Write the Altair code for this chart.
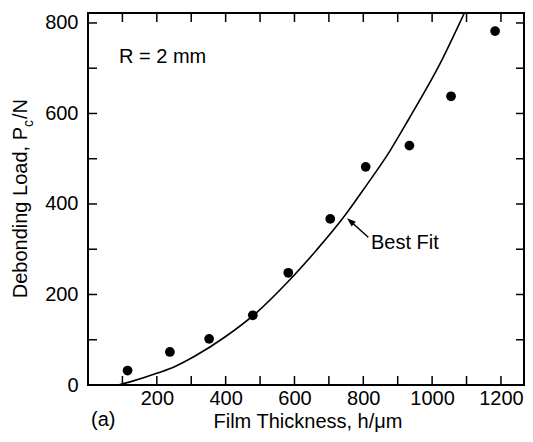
import altair as alt
import pandas as pd

# Measured data points (film thickness h in um, debonding load Pc in N)
h_data = [115, 238, 352, 479, 582, 704, 807, 934, 1055, 1183]
p_data = [32, 73, 102, 154, 248, 367, 482, 529, 638, 782]

# Best-fit curve
fit_h = [88, 127, 204, 250, 311, 398, 490, 581, 665, 742, 808, 878, 934, 1023, 1096]
fit_p = [0, 8, 27, 40, 64, 106, 160, 228, 299, 370, 440, 518, 590, 710, 826]

x_ticks = [100, 200, 300, 400, 500, 600, 700, 800, 900, 1000, 1100, 1200]
y_ticks = [100, 200, 300, 400, 500, 600, 700, 800]
x_labels = [200, 400, 600, 800, 1000, 1200]
y_labels = [0, 200, 400, 600, 800]

W, H = 436, 372
FONT = "Liberation Sans"

xs = alt.Scale(domain=[0, 1267], nice=False, zero=False)
ys = alt.Scale(domain=[0, 822], nice=False, zero=False)

pts_df = pd.DataFrame({"h": h_data, "p": p_data})
fit_df = pd.DataFrame({"h": fit_h, "p": fit_p})
xt_df = pd.DataFrame({"h": x_ticks})
yt_df = pd.DataFrame({"p": y_ticks})
one = pd.DataFrame({"a": [0]})

axis_common = dict(ticks=False, tickSize=0, domain=False, grid=False, format="d",
                   labelFontSize=20, labelFont=FONT, labelColor="black",
                   labelFlush=False, labelOverlap=False, title=None)
ax_x = alt.Axis(values=x_labels, labelPadding=3, **axis_common)
ax_y = alt.Axis(values=y_labels, labelPadding=10, **axis_common)

X = alt.X("h:Q", scale=xs, axis=ax_x)
Y = alt.Y("p:Q", scale=ys, axis=ax_y)

points = alt.Chart(pts_df).mark_circle(size=95, color="black", opacity=1).encode(x=X, y=Y)

fit = alt.Chart(fit_df).mark_line(color="black", strokeWidth=1.6,
                                  interpolate="monotone", clip=True).encode(x=X, y=Y)

tick_style = dict(color="black", strokeWidth=1.5)
bottom_ticks = alt.Chart(xt_df).mark_rule(**tick_style).encode(
    x=X, y=alt.value(H), y2=alt.value(H - 9))
top_ticks = alt.Chart(xt_df).mark_rule(**tick_style).encode(
    x=X, y=alt.value(0), y2=alt.value(9))
left_ticks = alt.Chart(yt_df).mark_rule(**tick_style).encode(
    y=Y, x=alt.value(0), x2=alt.value(9))
right_ticks = alt.Chart(yt_df).mark_rule(**tick_style).encode(
    y=Y, x=alt.value(W), x2=alt.value(W - 8))

def label(text, x, y, size=20, align="left", angle=0, weight="normal"):
    return alt.Chart(one).mark_text(text=text, font=FONT, fontSize=size, color="black",
                                    align=align, baseline="alphabetic", angle=angle,
                                    fontWeight=weight).encode(x=alt.value(x), y=alt.value(y))

r_label = label("R = 2 mm", 31, 50)
best_fit = label("Best Fit", 283, 236)
panel = label("(a)", 3, 413)
xtitle = label("Film Thickness, h/μm", 220, 415, align="center")
ytitle_main = label("Debonding Load, P", -60.7, 114, align="right", angle=270)
ytitle_sub = label("c", -55.5, 114, size=14, align="left", angle=270)
ytitle_end = label("/N", -60.7, 106, align="left", angle=270)

arrow_line = alt.Chart(one).mark_rule(color="black", strokeWidth=1.5).encode(
    x=alt.value(280.3), y=alt.value(224.3), x2=alt.value(263), y2=alt.value(208.7))
arrow_head = alt.Chart(one).mark_point(shape="M0,-1L0.6,0.7L-0.6,0.7Z", filled=True,
                                       color="black", opacity=1, size=110, angle=312).encode(
    x=alt.value(263), y=alt.value(208.7))

chart = alt.layer(
    points, fit, bottom_ticks, top_ticks, left_ticks, right_ticks,
    r_label, best_fit, panel, xtitle, ytitle_main, ytitle_sub, ytitle_end,
    arrow_line, arrow_head,
).properties(
    width=W, height=H,
    padding={"left": 80, "top": 5, "right": 1, "bottom": 49},
    autosize=alt.AutoSizeParams(type="none"),
).configure_view(stroke="black", strokeWidth=2)

chart.save("out.html", embed_options={"renderer": "svg", "actions": False})
